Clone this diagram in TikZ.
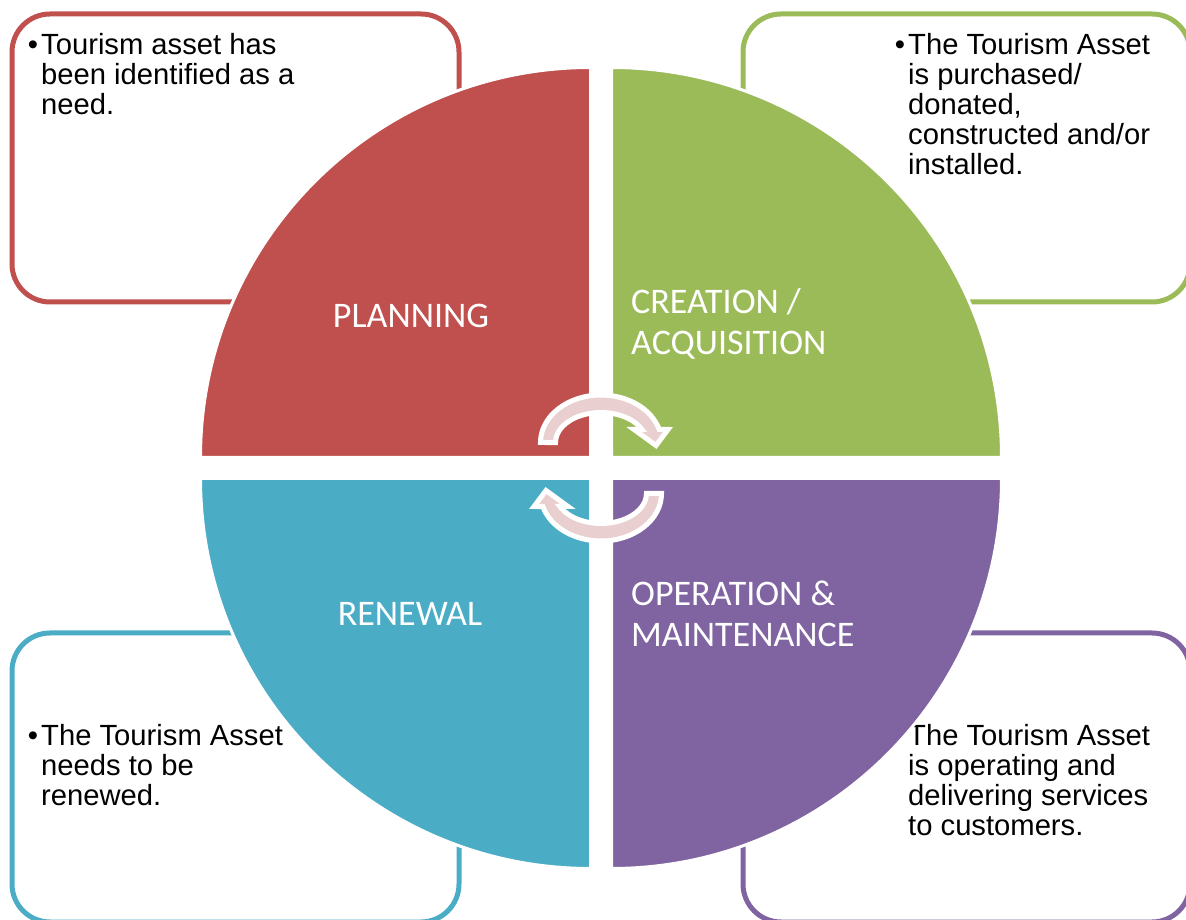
\documentclass[tikz,border=0pt]{standalone}
\usepackage{fontspec}
\setmainfont{Liberation Sans}
\newfontfamily\phasefont{Carlito}
\usetikzlibrary{positioning}

\definecolor{planred}{HTML}{C0504D}
\definecolor{creagreen}{HTML}{9BBB59}
\definecolor{renblue}{HTML}{4BACC6}
\definecolor{operpurple}{HTML}{8064A2}
\definecolor{cyclepink}{RGB}{233,207,208}

\begin{document}
\begin{tikzpicture}[x=1pt, y=1pt,
  infobox/.style={draw=#1, line width=5pt, rounded corners=38pt, fill=white},
  quarter/.style={fill=#1, draw=white, line width=3pt},
  bullets/.style={anchor=base west, align=left, inner sep=0pt,
    font=\fontsize{29.2}{30}\selectfont},
  phase/.style={text=white, inner sep=0pt, font=\phasefont\fontsize{36}{41}\selectfont},
  cyclearrow/.style={fill=cyclepink, draw=white, line width=5pt, line join=miter}]
\useasboundingbox (0,0) rectangle (1186,919);

% Boxes with the notes, behind the circle
% (a node's base is its last line, so the notes hang from there)
\draw[infobox=planred] (12,617) rectangle (459,905);
\draw[infobox=creagreen] (743,617) rectangle (1190,905);
\draw[infobox=renblue] (12,-3) rectangle (459,286);
\draw[infobox=operpurple] (743,-3) rectangle (1190,286);

\node[bullets] (planNote) at (41,804)
  {\llap{\textbullet\kern3pt}Tourism asset has\\been identified as a\\need.};
\node[bullets] (creaNote) at (908,744)
  {\llap{\textbullet\kern3pt}The Tourism Asset\\is purchased/\\donated,\\constructed and/or\\installed.};
\node[bullets] (renNote) at (41,114)
  {\llap{\textbullet\kern3pt}The Tourism Asset\\needs to be\\renewed.};
\node[bullets] (operNote) at (908,84)
  {\llap{\textbullet\kern3pt}The Tourism Asset\\is operating and\\delivering services\\to customers.};

% The four quarters
\filldraw[quarter=planred] (590.5,461.5) -- ++(180:390)
  arc[start angle=180, end angle=90, radius=390] -- cycle;
\filldraw[quarter=creagreen] (611.5,461.5) -- ++(90:390)
  arc[start angle=90, end angle=0, radius=390] -- cycle;
\filldraw[quarter=operpurple] (611.5,440.5) -- ++(0:390)
  arc[start angle=0, end angle=-90, radius=390] -- cycle;
\filldraw[quarter=renblue] (590.5,440.5) -- ++(270:390)
  arc[start angle=270, end angle=180, radius=390] -- cycle;

\node[phase, anchor=base] (planning) at (411,591) {PLANNING};
\node[phase, anchor=base west, align=left] (creation) at (631,564)
  {CREATION /\\ACQUISITION};
\node[phase, anchor=base west, align=left] (operation) at (631,272)
  {OPERATION \&\\MAINTENANCE};
\node[phase, anchor=base] (renewal) at (410,293) {RENEWAL};

% Cycle arrows in the middle
\begin{scope}[shift={(601,476.5)}]
  \filldraw[cyclearrow] (-60.5,0) arc[start angle=180, end angle=15.9, x radius=60.5, y radius=47.5]
    -- (67,13) -- (55,-3) -- (33,13) -- (41,13)
    arc[start angle=25.7, end angle=180, x radius=45.5, y radius=30] -- cycle;
\end{scope}
\begin{scope}[shift={(601,425.5)}, rotate=180]
  \filldraw[cyclearrow] (-60.5,0) arc[start angle=180, end angle=15.9, x radius=60.5, y radius=47.5]
    -- (67,13) -- (55,-3) -- (33,13) -- (41,13)
    arc[start angle=25.7, end angle=180, x radius=45.5, y radius=30] -- cycle;
\end{scope}
\end{tikzpicture}
\end{document}
